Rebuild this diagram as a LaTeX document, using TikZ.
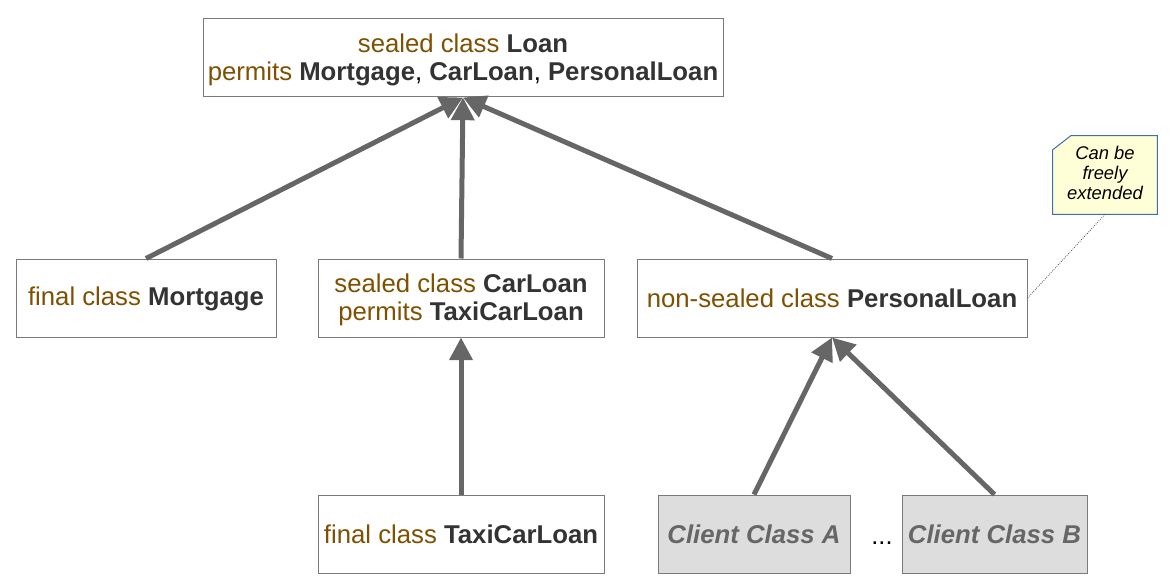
\documentclass[tikz,border=0pt]{standalone}
\usepackage{fontspec}
\setmainfont{Liberation Sans}
\usetikzlibrary{arrows.meta}
\definecolor{kw}{HTML}{7F5000}
\definecolor{nm}{HTML}{333333}
\definecolor{edge}{HTML}{666666}
\definecolor{boxline}{HTML}{7A7A7A}
\definecolor{clientfill}{HTML}{DDDDDD}
\definecolor{clienttext}{HTML}{666666}
\definecolor{notefill}{HTML}{FFFFD7}
\definecolor{noteline}{HTML}{3F6FB0}
\newcommand{\kwd}[1]{{\color{kw}#1}}
\newcommand{\nmd}[1]{{\color{nm}\bfseries #1}}
\newcommand{\lowr}[2]{\raisebox{#1}[\height][\depth]{\begin{tabular}{@{}c@{}}#2\end{tabular}}}
\begin{document}
\begin{tikzpicture}[x=0.75pt,y=-0.75pt,
  cls/.style={draw=boxline, line width=0.75pt, fill=white, align=center,
    font=\fontsize{19.3}{21}\selectfont, inner sep=0pt},
  client/.style={cls, fill=clientfill, text=clienttext, font=\fontsize{19.3}{21}\selectfont\bfseries\itshape},
  inh/.style={draw=edge, line width=3.75pt, -{Triangle[length=17pt,width=17pt]}}]
\useasboundingbox (0,0) rectangle (1170,588);
\node[cls, minimum width=390pt, minimum height=58.5pt] (loan) at (463,58)
  {\lowr{-2.25pt}{\kwd{sealed class} \nmd{Loan}\\\kwd{permits} \nmd{Mortgage}, \nmd{CarLoan}, \nmd{PersonalLoan}}};
\node[cls, minimum width=195pt, minimum height=58.5pt] (mort) at (146,298)
  {\lowr{-1.5pt}{\kwd{final class} \nmd{Mortgage}}};
\node[cls, minimum width=214.5pt, minimum height=58.5pt] (car) at (461,298)
  {\lowr{-2.25pt}{\kwd{sealed class} \nmd{CarLoan}\\\kwd{permits} \nmd{TaxiCarLoan}}};
\node[cls, minimum width=292.5pt, minimum height=58.5pt] (pers) at (832,298)
  {\kwd{non-sealed class} \nmd{PersonalLoan}};
\node[cls, minimum width=214.5pt, minimum height=58.5pt] (taxi) at (461,534)
  {\kwd{final class} \nmd{TaxiCarLoan}};
\node[client, minimum width=144pt, minimum height=58.5pt] (ca) at (754,534) {Client Class A};
\node[client, minimum width=138.75pt, minimum height=58.5pt] (cb) at (994.5,534) {Client Class B};
\node[font=\fontsize{19}{20}\selectfont, text=black] (dots) at (882,543) {...};
\node[inner sep=0pt, minimum width=78pt, minimum height=58.5pt] (note) at (1105,175) {};
\draw[draw=noteline, fill=notefill, line width=0.75pt]
  ([xshift=13.5pt]note.north west) -- (note.north east) -- (note.south east)
  -- (note.south west) -- ([yshift=-10.5pt]note.north west) -- cycle;
\node[align=center, inner sep=0pt, font=\fontsize{13.8}{15}\selectfont\itshape] (notetext) at (1105,173) {Can be\\freely\\extended};
\draw[densely dotted, line width=0.6pt, black!70] (note.south) -- (pers.east);
\draw[inh] (mort.north) -- (loan.south);
\draw[inh] (car.north) -- (loan.south);
\draw[inh] (pers.north) -- (loan.south);
\draw[inh] (taxi.north) -- (car.south);
\draw[inh] (ca.north) -- (pers.south);
\draw[inh] (cb.north) -- (pers.south);
\end{tikzpicture}
\end{document}
